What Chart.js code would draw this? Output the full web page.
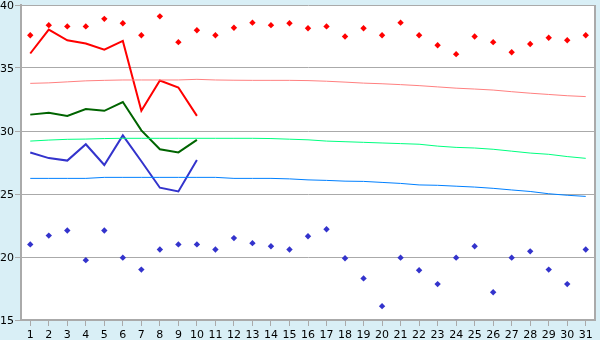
<!DOCTYPE html>
<html>
<head>
<meta charset="utf-8">
<script src="https://cdn.jsdelivr.net/npm/chart.js@4"></script>
<style>
  html, body { margin: 0; padding: 0; background: #d9eff6; }
  canvas { display: block; }
</style>
</head>
<body>
<canvas id="chart" width="600" height="340"></canvas>
<script>
// DATA
const days = Array.from({ length: 31 }, (_, i) => String(i + 1));
const yTicks = [15, 20, 25, 30, 35, 40];

// daily max / min (diamonds)
const maxPoints = [37.6, 38.4, 38.3, 38.3, 38.9, 38.55, 37.6, 39.1, 37.05, 38.0,
  37.6, 38.2, 38.6, 38.4, 38.55, 38.15, 38.3, 37.5, 38.15, 37.6, 38.6,
  37.6, 36.8, 36.1, 37.5, 37.05, 36.25, 36.9, 37.4, 37.2, 37.6];
const minPoints = [21.0, 21.7, 22.1, 19.75, 22.1, 19.95, 19.0, 20.6, 21.0, 21.0,
  20.6, 21.5, 21.1, 20.85, 20.6, 21.65, 22.2, 19.9, 18.3, 16.1, 19.95,
  18.95, 17.85, 19.95, 20.85, 17.2, 19.95, 20.45, 19.0, 17.85, 20.6];

// thick lines (first 10 days)
const redLine = [36.15, 38.05, 37.2, 36.95, 36.45, 37.15, 31.6, 34.0, 33.45, 31.2];
const greenLine = [31.3, 31.45, 31.2, 31.75, 31.6, 32.3, 30.05, 28.55, 28.3, 29.3];
const blueLine = [28.3, 27.85, 27.65, 28.95, 27.3, 29.65, 27.6, 25.5, 25.2, 27.7];

// thin average lines
const redAvg = [33.78, 33.82, 33.9, 33.98, 34.02, 34.05, 34.05, 34.05, 34.05, 34.1,
  34.05, 34.03, 34.02, 34.02, 34.02, 34.0, 33.95, 33.88, 33.8, 33.75, 33.68,
  33.6, 33.5, 33.4, 33.33, 33.25, 33.12, 33.0, 32.9, 32.8, 32.73];
const greenAvg = [29.2, 29.28, 29.34, 29.36, 29.4, 29.42, 29.42, 29.42, 29.42, 29.42,
  29.42, 29.42, 29.42, 29.4, 29.35, 29.3, 29.2, 29.15, 29.1, 29.05, 29.0,
  28.95, 28.8, 28.7, 28.65, 28.55, 28.4, 28.25, 28.15, 27.97, 27.83];
const blueAvg = [26.24, 26.24, 26.24, 26.24, 26.32, 26.32, 26.32, 26.32, 26.32, 26.32,
  26.32, 26.24, 26.24, 26.24, 26.2, 26.12, 26.08, 26.02, 26.0, 25.92, 25.84,
  25.72, 25.69, 25.62, 25.55, 25.45, 25.32, 25.2, 25.02, 24.9, 24.81];

// BACKGROUND + BORDER
const frame = {
  id: 'frame',
  beforeDraw(c) {
    const { ctx, chartArea: a } = c;
    ctx.save();
    ctx.fillStyle = '#d9eff6';
    ctx.fillRect(0, 0, c.width, c.height);
    ctx.fillStyle = '#ffffff';
    ctx.fillRect(a.left, a.top, a.right - a.left, a.bottom - a.top);
    ctx.restore();
  },
  afterDraw(c) {
    const { ctx, chartArea: a } = c;
    ctx.save();
    ctx.strokeStyle = '#aaaaaa';
    ctx.lineWidth = 2;
    ctx.beginPath();
    ctx.moveTo(a.right, a.top);
    ctx.lineTo(a.right, a.bottom);
    ctx.stroke();
    ctx.restore();
  }
};

const line = (data, color, width) => ({
  data, borderColor: color, borderWidth: width, pointRadius: 0,
  tension: 0, fill: false, spanGaps: false
});
const dots = (data, color) => ({
  data, showLine: false, pointStyle: 'rectRot', pointRadius: 3.2,
  pointBackgroundColor: color, pointBorderColor: color, pointBorderWidth: 0
});

new Chart(document.getElementById('chart'), {
  type: 'line',
  data: {
    labels: days,
    datasets: [
      line(redAvg, '#ff8080', 1),
      line(greenAvg, '#00ff80', 1),
      line(blueAvg, '#0080ff', 1),
      line(redLine, '#ff0000', 2),
      line(greenLine, '#006400', 2),
      line(blueLine, '#3333cc', 2),
      dots(maxPoints, '#ff0000'),
      dots(minPoints, '#3333cc')
    ]
  },
  options: {
    responsive: false,
    animation: false,
    layout: { padding: { top: 5, right: 5, left: 0, bottom: 0 } },
    plugins: { legend: { display: false }, tooltip: { enabled: false } },
    scales: {
      x: {
        offset: true,
        grid: { drawOnChartArea: false, drawTicks: true, tickLength: 6, color: '#aaaaaa' },
        border: { color: '#aaaaaa', width: 2 },
        ticks: { color: '#000', padding: 3, maxRotation: 0, autoSkip: false,
          font: { family: 'DejaVu Sans', size: 11 } },
        afterFit(s) { s.height = 20; s.paddingLeft = 0; s.paddingRight = 0; }
      },
      y: {
        min: yTicks[0],
        max: yTicks[yTicks.length - 1],
        afterBuildTicks(s) { s.ticks = yTicks.map(v => ({ value: v })); },
        grid: { color: '#aaaaaa', lineWidth: 1, tickLength: 6 },
        border: { color: '#aaaaaa', width: 2 },
        ticks: { color: '#000', padding: 1, labelOffset: 1,
          font: { family: 'DejaVu Sans', size: 11 } },
        afterFit(s) { s.width = 21; s.paddingTop = 0; s.paddingBottom = 0; }
      }
    }
  },
  plugins: [frame]
});
</script>
</body>
</html>
